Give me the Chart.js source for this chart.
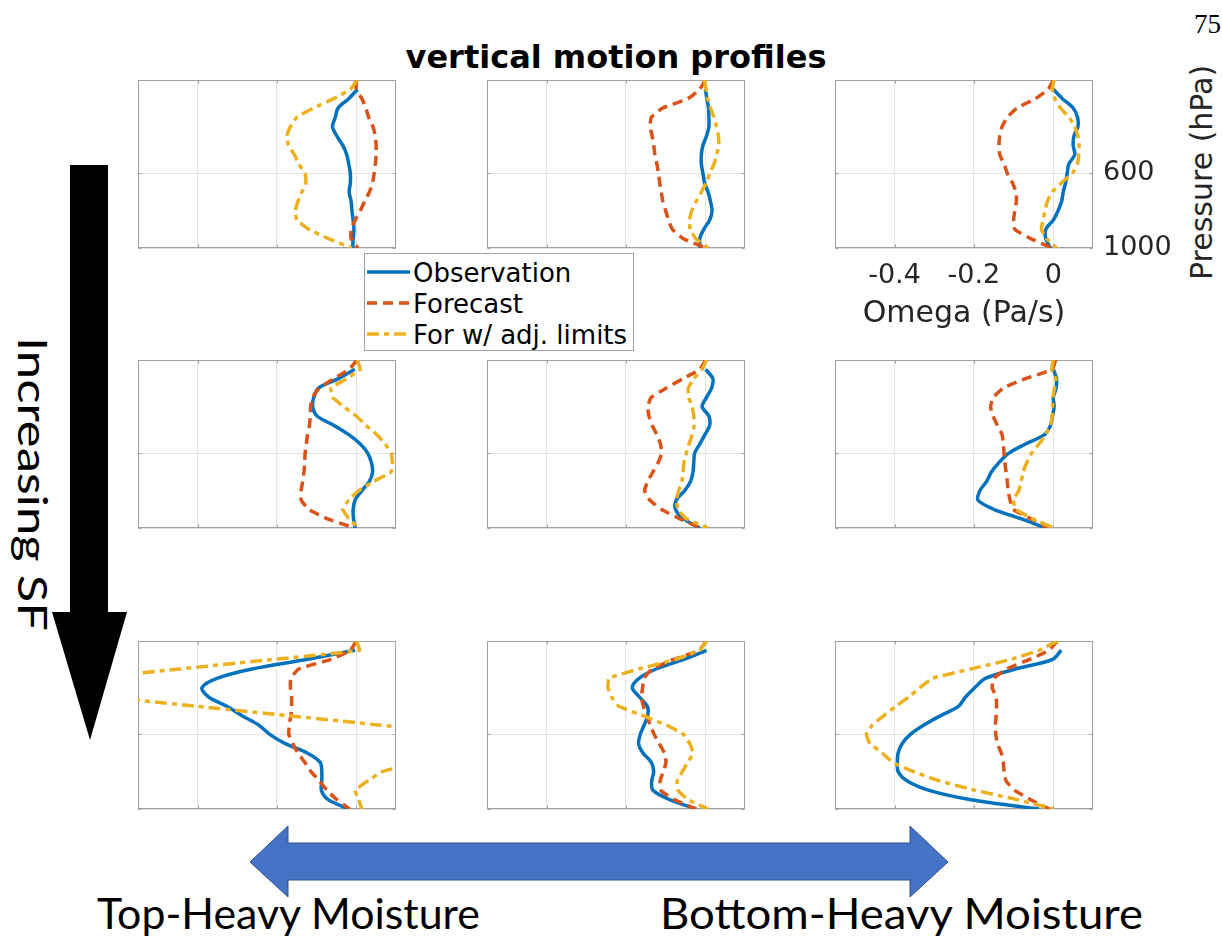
<!DOCTYPE html>
<html>
<head>
<meta charset="utf-8">
<title>vertical motion profiles</title>
<script src="https://cdn.jsdelivr.net/npm/chart.js@4.4.1/dist/chart.umd.min.js"></script>
<style>
  html, body { margin: 0; padding: 0; background: #fff; }
  #page { position: relative; width: 1222px; height: 945px; overflow: hidden; }
  #page canvas { position: absolute; }
  #deco { position: absolute; left: 0; top: 0; }
</style>
</head>
<body>
<div id="page">
  <svg id="deco" width="1222" height="945" xmlns="http://www.w3.org/2000/svg">
    <text x="1221" y="33" text-anchor="end" font-family="Liberation Serif" font-size="27">75</text>
    <text x="616" y="68" text-anchor="middle" font-family="DejaVu Sans" font-weight="bold" font-size="32">vertical motion profiles</text>
    <text transform="translate(1212,280) rotate(-90)" font-family="DejaVu Sans" font-size="30" fill="#262626">Pressure (hPa)</text>

    <!-- increasing SF arrow -->
    <polygon points="70,165 108,165 108,612 127,612 90,740 52,612 70,612" fill="#000"/>
    <text transform="translate(18,484) rotate(90)" text-anchor="middle" font-family="Lato" font-size="40" textLength="294" lengthAdjust="spacingAndGlyphs">Increasing SF</text>

    <!-- moisture double arrow -->
    <polygon points="250,862 288,826 288,843 910,843 910,826 948,862 910,897 910,880 288,880 288,897"
             fill="#4472C4" stroke="#2F528F" stroke-width="1"/>
    <text x="97" y="929" font-family="Lato" font-size="42" textLength="383" lengthAdjust="spacingAndGlyphs">Top-Heavy Moisture</text>
    <text x="660" y="929" font-family="Lato" font-size="42" textLength="483" lengthAdjust="spacingAndGlyphs">Bottom-Heavy Moisture</text>

    <g id="legend"></g>
  </svg>
</div>
<script>
// pressure levels (hPa), shared by every profile
const pressure = [100, 150, 200, 250, 300, 350, 400, 450, 500, 550, 600, 650, 700, 750, 800, 850, 900, 950, 1000];
const omegaTicks = [-0.4, -0.2, 0];
const pressureTicks = [600, 1000];
const seriesNames = ["Observation", "Forecast", "For w/ adj. limits"];

// omega (Pa/s) per panel, rows top to bottom, columns left to right
const observation = [
  [null, 0.003, -0.019, -0.046, -0.053, -0.060, -0.049, -0.034, -0.024, -0.019, -0.015, -0.015, -0.018, -0.013, -0.011, -0.008, -0.006, -0.008, -0.009],
  [null, 0.0, 0.004, 0.008, 0.009, 0.009, 0.003, -0.006, -0.010, -0.010, -0.006, -0.002, 0.007, 0.013, 0.017, 0.011, -0.004, -0.014, -0.013],
  [null, 0.0, 0.023, 0.050, 0.061, 0.062, 0.052, 0.050, 0.054, 0.039, 0.035, 0.031, 0.025, 0.021, 0.012, 0.0, -0.019, -0.019, -0.007],
  [null, -0.004, -0.045, -0.095, -0.107, -0.110, -0.099, -0.057, -0.019, 0.010, 0.029, 0.038, 0.041, 0.033, 0.014, -0.003, -0.008, -0.007, -0.003],
  [null, 0.001, 0.019, 0.016, 0.003, -0.008, 0.009, 0.011, -0.001, -0.014, -0.027, -0.029, -0.031, -0.037, -0.052, -0.073, -0.075, -0.055, -0.014],
  [null, 0.0, 0.008, 0.007, 0.0, 0.002, -0.002, -0.007, -0.022, -0.070, -0.113, -0.137, -0.156, -0.168, -0.185, -0.190, -0.150, -0.082, -0.019],
  [null, -0.003, -0.129, -0.263, -0.351, -0.389, -0.372, -0.326, -0.288, -0.246, -0.218, -0.179, -0.124, -0.091, -0.087, -0.087, -0.088, -0.071, -0.019],
  [null, 0.003, -0.056, -0.124, -0.167, -0.184, -0.166, -0.146, -0.145, -0.154, -0.164, -0.168, -0.157, -0.136, -0.130, -0.135, -0.132, -0.090, -0.023],
  [null, 0.020, -0.003, -0.095, -0.171, -0.198, -0.221, -0.239, -0.284, -0.326, -0.360, -0.381, -0.391, -0.393, -0.391, -0.368, -0.313, -0.208, -0.036]
];
const forecast = [
  [0.0, 0.0, 0.014, 0.024, 0.031, 0.042, 0.048, 0.050, 0.050, 0.048, 0.045, 0.041, 0.033, 0.021, 0.010, -0.003, -0.013, -0.013, 0.004],
  [0.0, -0.014, -0.044, -0.107, -0.136, -0.139, -0.134, -0.130, -0.127, -0.122, -0.118, -0.115, -0.111, -0.107, -0.100, -0.093, -0.083, -0.055, 0.001],
  [0.0, -0.013, -0.045, -0.091, -0.116, -0.129, -0.135, -0.137, -0.135, -0.124, -0.116, -0.103, -0.094, -0.093, -0.097, -0.100, -0.097, -0.057, -0.003],
  [0.002, -0.018, -0.057, -0.093, -0.110, -0.115, -0.116, -0.118, -0.123, -0.126, -0.129, -0.130, -0.132, -0.135, -0.139, -0.139, -0.120, -0.074, -0.004],
  [0.001, -0.014, -0.056, -0.098, -0.136, -0.145, -0.142, -0.134, -0.122, -0.113, -0.110, -0.119, -0.132, -0.145, -0.153, -0.140, -0.111, -0.065, -0.010],
  [0.006, -0.003, -0.070, -0.126, -0.151, -0.158, -0.152, -0.141, -0.129, -0.126, -0.124, -0.122, -0.119, -0.116, -0.114, -0.109, -0.101, -0.057, -0.015],
  [0.0, -0.015, -0.066, -0.145, -0.165, -0.166, -0.163, -0.163, -0.165, -0.169, -0.170, -0.160, -0.147, -0.130, -0.114, -0.093, -0.074, -0.049, -0.017],
  [0.003, -0.016, -0.082, -0.134, -0.154, -0.158, -0.161, -0.156, -0.147, -0.139, -0.129, -0.116, -0.103, -0.099, -0.106, -0.114, -0.112, -0.078, -0.023],
  [0.010, -0.011, -0.061, -0.118, -0.150, -0.154, -0.144, -0.143, -0.144, -0.146, -0.145, -0.141, -0.131, -0.126, -0.124, -0.119, -0.097, -0.057, -0.010]
];
const adjusted = [
  [0.002, -0.015, -0.057, -0.108, -0.150, -0.166, -0.175, -0.171, -0.156, -0.145, -0.129, -0.127, -0.137, -0.147, -0.154, -0.150, -0.120, -0.070, -0.011],
  [-0.002, 0.002, 0.006, 0.013, 0.022, 0.028, 0.033, 0.034, 0.029, 0.022, 0.011, 0.003, -0.010, -0.023, -0.034, -0.040, -0.038, -0.024, 0.007],
  [0.002, -0.003, 0.004, 0.018, 0.040, 0.054, 0.062, 0.065, 0.064, 0.061, 0.048, 0.021, -0.003, -0.015, -0.021, -0.026, -0.030, -0.017, 0.008],
  [0.002, 0.010, -0.024, -0.064, -0.060, -0.032, 0.0, 0.024, 0.052, 0.073, 0.088, 0.091, 0.088, 0.044, 0.006, -0.019, -0.034, -0.019, 0.006],
  [0.003, -0.008, -0.029, -0.043, -0.042, -0.033, -0.029, -0.028, -0.033, -0.041, -0.048, -0.054, -0.056, -0.059, -0.067, -0.073, -0.069, -0.048, 0.007],
  [0.0, -0.004, 0.006, 0.003, -0.001, -0.002, -0.003, -0.007, -0.019, -0.036, -0.055, -0.067, -0.076, -0.081, -0.087, -0.101, -0.095, -0.053, 0.002],
  [0.0, 0.008, -0.215, -0.444, -0.672, -0.880, -0.631, -0.402, -0.173, 0.056, 0.290, 0.245, 0.200, 0.154, 0.065, 0.028, -0.003, 0.006, 0.014],
  [0.003, -0.014, -0.077, -0.168, -0.243, -0.245, -0.236, -0.218, -0.157, -0.098, -0.055, -0.039, -0.031, -0.044, -0.058, -0.071, -0.069, -0.044, 0.007],
  [0.010, -0.036, -0.109, -0.208, -0.305, -0.336, -0.364, -0.397, -0.427, -0.456, -0.471, -0.462, -0.431, -0.405, -0.352, -0.286, -0.197, -0.091, 0.0]
];

const lineColors = ["#0072BD", "#D95319", "#EDB120"];
const lineDashes = [[], [10, 6], [12, 5, 5, 5]];
const lineTension = [0.3, 0.15, 0.1];
const lineWidth = 3.5;

const panelLeft = [138, 487, 835];
const panelTop = [80, 360, 641];
const plotW = 258;
const plotH = 168;
const axisColor = "#262626";

// box around each axes with short inward tick marks
const framePlugin = {
  id: "frame",
  beforeDatasetsDraw(chart) {
    const { ctx, chartArea: a, scales } = chart;
    const l = Math.round(a.left) + 0.5, t = Math.round(a.top) + 0.5;
    const r = Math.round(a.right) - 0.5, b = Math.round(a.bottom) - 0.5;
    ctx.save();
    ctx.strokeStyle = "#a0a0a0";
    ctx.lineWidth = 1;
    ctx.strokeRect(l, t, r - l, b - t);
    ctx.beginPath();
    omegaTicks.forEach((v) => {
      const px = Math.round(scales.x.getPixelForValue(v)) + 0.5;
      ctx.moveTo(px, b); ctx.lineTo(px, b - 3);
      ctx.moveTo(px, t); ctx.lineTo(px, t + 3);
    });
    pressureTicks.forEach((v) => {
      const py = Math.round(scales.y.getPixelForValue(v)) + 0.5;
      ctx.moveTo(l, py); ctx.lineTo(l + 3, py);
      ctx.moveTo(r, py); ctx.lineTo(r - 3, py);
    });
    ctx.stroke();
    ctx.restore();
  }
};

const page = document.getElementById("page");

const makePanel = (idx) => {
  const row = Math.floor(idx / 3);
  const col = idx % 3;
  // only the top-right axes carries tick labels and axis titles
  const labelled = idx === 2;
  const extraRight = labelled ? 95 : 0;
  const extraBottom = labelled ? 84 : 0;

  const canvas = document.createElement("canvas");
  canvas.width = plotW + 2 + (labelled ? extraRight : 2);
  canvas.height = plotH + 2 + (labelled ? extraBottom : 2);
  canvas.style.left = (panelLeft[col] - 2) + "px";
  canvas.style.top = (panelTop[row] - 2) + "px";
  page.appendChild(canvas);

  const series = [observation[idx], forecast[idx], adjusted[idx]];
  const datasets = series.map((vals, k) => ({
    label: seriesNames[k],
    data: pressure
      .map((p, j) => ({ x: vals[j], y: p }))
      .filter((d) => d.x !== null),
    showLine: true,
    borderColor: lineColors[k],
    backgroundColor: lineColors[k],
    borderWidth: lineWidth,
    borderDash: lineDashes[k],
    tension: lineTension[k],
    pointRadius: 0,
    order: 2 - k
  }));

  new Chart(canvas, {
    type: "scatter",
    data: { datasets: datasets },
    plugins: [framePlugin],
    options: {
      responsive: false,
      animation: false,
      events: [],
      layout: {
        padding: { left: 2, top: 2, right: labelled ? 0 : 2, bottom: labelled ? 0 : 2 }
      },
      plugins: { legend: { display: false }, tooltip: { enabled: false } },
      scales: {
        x: {
          type: "linear",
          position: "bottom",
          min: -0.55,
          max: 0.1,
          afterBuildTicks: (s) => { s.ticks = omegaTicks.map((v) => ({ value: v })); },
          afterFit: (s) => {
            s.height = extraBottom;
            s.paddingLeft = 0;
            s.paddingRight = 0;
          },
          border: { display: false },
          grid: { color: "#e4e4e4", drawTicks: false },
          ticks: {
            display: labelled,
            autoSkip: false,
            maxRotation: 0,
            padding: 12,
            color: axisColor,
            font: { family: "DejaVu Sans", size: 27 },
            callback: (v) => String(v)
          },
          title: {
            display: labelled,
            text: "Omega (Pa/s)",
            color: axisColor,
            padding: 0,
            font: { family: "DejaVu Sans", size: 30 }
          }
        },
        y: {
          type: "linear",
          position: "right",
          reverse: true,
          min: 100,
          max: 1000,
          afterBuildTicks: (s) => { s.ticks = pressureTicks.map((v) => ({ value: v })); },
          afterFit: (s) => {
            s.width = extraRight;
            s.paddingTop = 0;
            s.paddingBottom = 0;
          },
          border: { display: false },
          grid: { color: "#e4e4e4", drawTicks: false },
          ticks: {
            display: labelled,
            autoSkip: false,
            padding: 10,
            color: axisColor,
            font: { family: "DejaVu Sans", size: 27 },
            callback: (v) => String(v)
          }
        }
      }
    }
  });
};

for (let i = 0; i < 9; i++) {
  makePanel(i);
}

// legend box between the first two rows
const legend = document.getElementById("legend");
const svgNS = "http://www.w3.org/2000/svg";
const legendRows = [272, 303, 334];
const box = document.createElementNS(svgNS, "rect");
box.setAttribute("x", "364.5");
box.setAttribute("y", "253.5");
box.setAttribute("width", "269");
box.setAttribute("height", "97");
box.setAttribute("fill", "#fff");
box.setAttribute("stroke", "#a0a0a0");
legend.appendChild(box);
seriesNames.forEach((name, k) => {
  const line = document.createElementNS(svgNS, "line");
  line.setAttribute("x1", "367");
  line.setAttribute("x2", "410");
  line.setAttribute("y1", legendRows[k]);
  line.setAttribute("y2", legendRows[k]);
  line.setAttribute("stroke", lineColors[k]);
  line.setAttribute("stroke-width", lineWidth);
  if (lineDashes[k].length) line.setAttribute("stroke-dasharray", lineDashes[k].join(" "));
  legend.appendChild(line);
  const label = document.createElementNS(svgNS, "text");
  label.setAttribute("x", "413");
  label.setAttribute("y", legendRows[k] + 10);
  label.setAttribute("font-family", "DejaVu Sans");
  label.setAttribute("font-size", "26");
  label.textContent = name;
  legend.appendChild(label);
});
</script>
</body>
</html>
